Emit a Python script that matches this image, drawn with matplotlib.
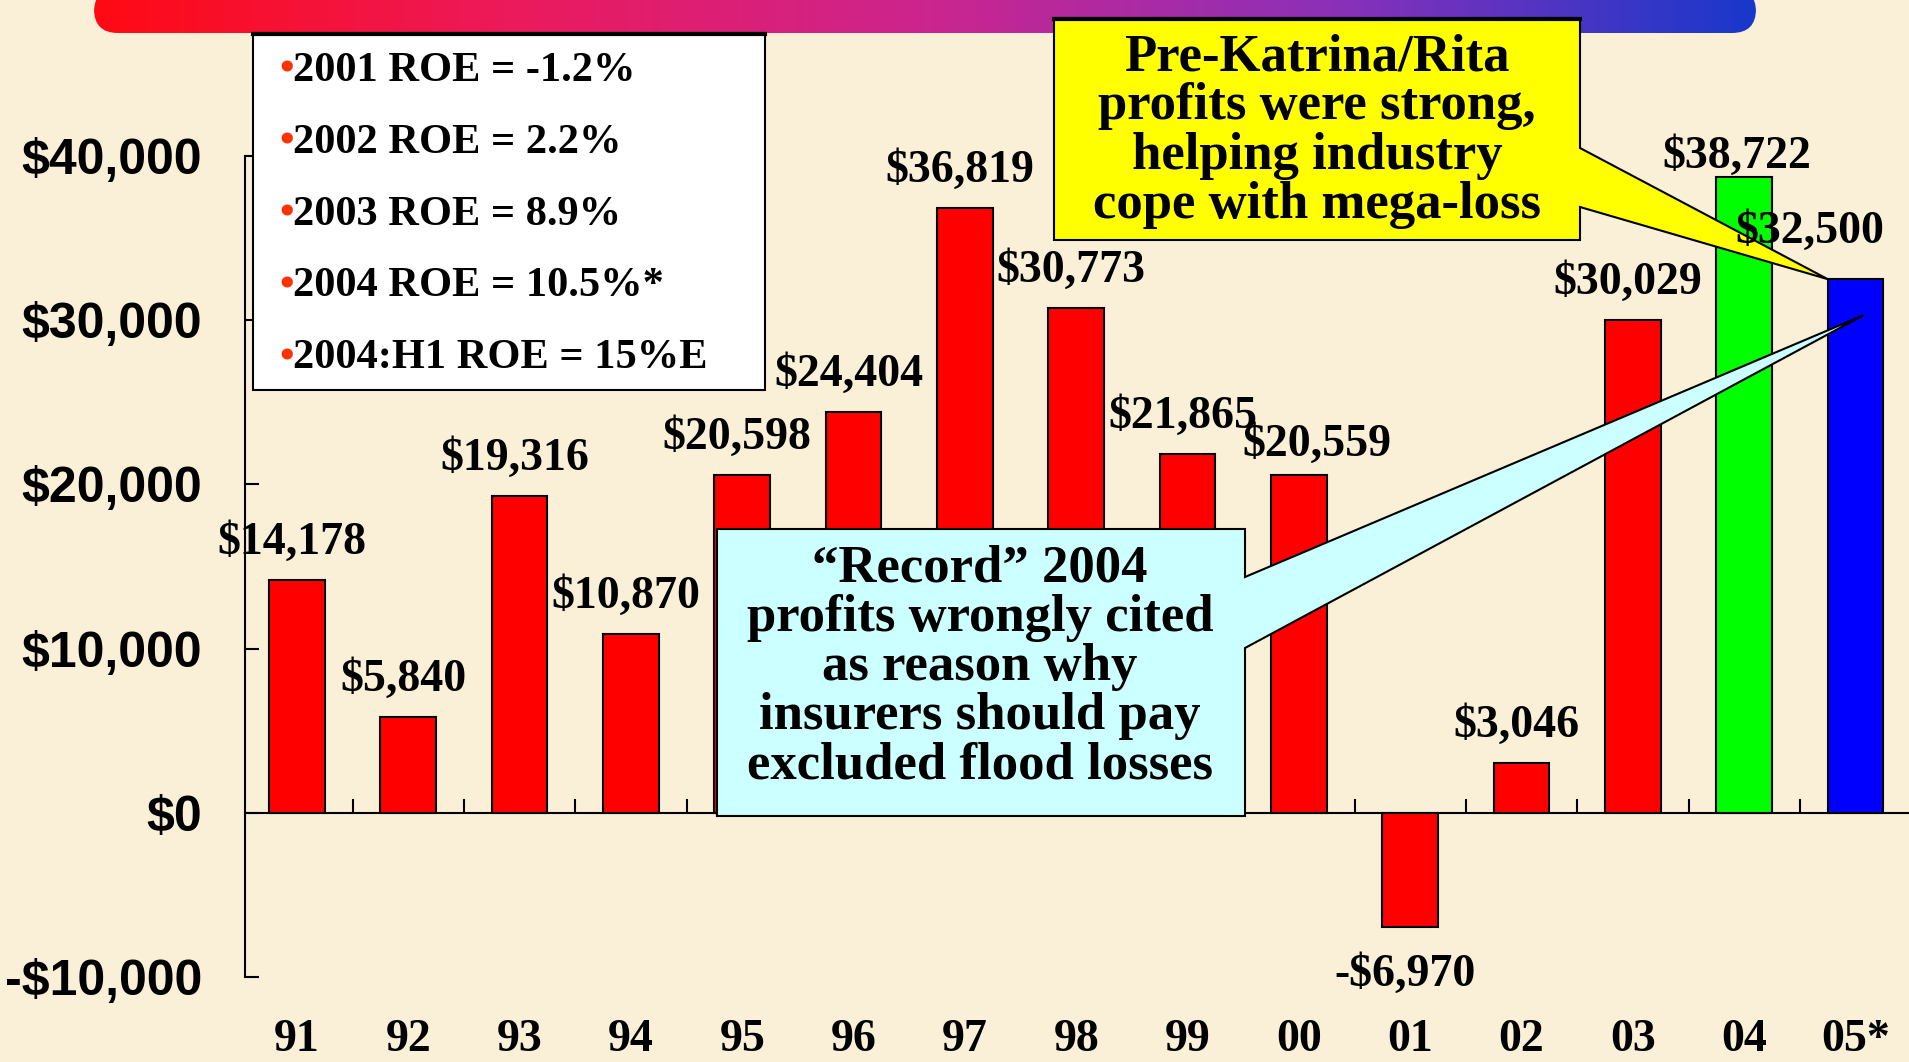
"""
Insurer net income 1991-2005*, with ROE notes and two call-out boxes.
"""

import numpy as np
import matplotlib
matplotlib.use('Agg')
import matplotlib.pyplot as plt
from matplotlib.patches import Polygon, Rectangle, FancyBboxPatch
from matplotlib.colors import LinearSegmentedColormap
from matplotlib.transforms import blended_transform_factory

# data
years = ['91', '92', '93', '94', '95', '96', '97', '98', '99',
         '00', '01', '02', '03', '04', '05*']
profits = [14178, 5840, 19316, 10870, 20598, 24404, 36819, 30773, 21865,
           20559, -6970, 3046, 30029, 38722, 32500]
bar_colors = ['#ff0000'] * 13 + ['#00ff00', '#0000ff']
value_labels = ['$14,178', '$5,840', '$19,316', '$10,870', '$20,598',
                '$24,404', '$36,819', '$30,773', '$21,865', '$20,559',
                '-$6,970', '$3,046', '$30,029', '$38,722', '$32,500']
roe_notes = ['2001 ROE = -1.2%', '2002 ROE = 2.2%', '2003 ROE = 8.9%',
             '2004 ROE = 10.5%*', '2004:H1 ROE = 15%E']
yticks = [-10000, 0, 10000, 20000, 30000, 40000]
ytick_labels = ['-$10,000', '$0', '$10,000', '$20,000', '$30,000', '$40,000']
yellow_text = 'Pre-Katrina/Rita\nprofits were strong,\nhelping industry\ncope with mega-loss'
cyan_text = ('\u201cRecord\u201d 2004\nprofits wrongly cited\nas reason why\n'
             'insurers should pay\nexcluded flood losses')

SERIF = 'Liberation Serif'
SANS = 'Liberation Sans'
BG = '#faf0d8'
W, H = 1909, 1062


def fx(x):
    return x / W


def fy(y):
    return 1 - y / H


fig = plt.figure(figsize=(W / 100, H / 100), dpi=100, facecolor=BG)

# gradient bar across the top
gax = fig.add_axes([fx(94), fy(33), (1756 - 94) / W, 33 / H])
gax.set_zorder(0)
gax.axis('off')
cmap = LinearSegmentedColormap.from_list(
    'banner', ['#ff0a14', '#ec1a5c', '#cc258e', '#8a31b8', '#1838cc'])
grad = np.linspace(0, 1, 512).reshape(1, -1)
img = gax.imshow(grad, cmap=cmap, aspect='auto', extent=[0, 1662, 0, 45])
clip = FancyBboxPatch((0, 0), 1662, 45, boxstyle='round,pad=0,rounding_size=24',
                      transform=gax.transData)
img.set_clip_path(clip)
gax.set_xlim(0, 1662)
gax.set_ylim(0, 33)

# main chart
ax = fig.add_axes([fx(245), fy(977), 1 - fx(245), (977 - 156) / H])
ax.set_zorder(1)
ax.patch.set_visible(False)
x = np.arange(len(years))
ax.bar(x, profits, width=0.5, color=bar_colors, edgecolor='black',
       linewidth=1.5, zorder=2)
ax.set_xlim(-0.467, 14.48)
ax.set_ylim(-10000, 40000)

for side in ['top', 'right']:
    ax.spines[side].set_visible(False)
ax.spines['bottom'].set_position(('data', 0))
ax.spines['bottom'].set_linewidth(1.5)
ax.spines['left'].set_linewidth(1.5)

ax.set_xticks(x)
ax.set_xticklabels([])
ax.tick_params(axis='x', which='major', length=0)
ax.set_xticks(x[:-1] + 0.5, minor=True)
ax.tick_params(axis='x', which='minor', direction='in', length=10, width=1.5)

ax.set_yticks(yticks)
ax.set_yticklabels(ytick_labels, fontfamily=SANS, fontweight='bold', fontsize=36)
ax.tick_params(axis='y', direction='in', length=10, width=1.5, pad=31)

# year labels at the bottom
trans = blended_transform_factory(ax.transData, ax.transAxes)
for i, yr in enumerate(years):
    ax.text(i, -0.077, yr, transform=trans, ha='center', va='center',
            fontsize=33, fontfamily=SERIF, fontweight='bold', clip_on=False)

# value labels (offsets in pixels, a few were nudged on the slide)
nudge = {9: (18, -7), 13: (-7, -17), 14: (-46, 10)}
for i, (v, lab) in enumerate(zip(profits, value_labels)):
    dx, dy = nudge.get(i, (-5, 0))
    dy = dy + 37 if v >= 0 else -48
    ax.annotate(lab, (i, v), xytext=(dx * 0.72, dy * 0.72),
                textcoords='offset points', ha='center', va='center',
                fontsize=33, fontfamily=SERIF, fontweight='bold', zorder=4,
                annotation_clip=False)

to_fig = fig.transFigure.inverted()


def data_to_fig(px, py):
    return to_fig.transform(ax.transData.transform((px, py)))


# ROE note box
ax.add_patch(Rectangle((fx(253), fy(390)), (765 - 253) / W, (390 - 33) / H,
                       transform=fig.transFigure, facecolor='white',
                       edgecolor='black', linewidth=1.5, clip_on=False, zorder=5))
ax.plot([fx(253), fx(765)], [fy(34), fy(34)], transform=fig.transFigure,
        color='black', linewidth=3, clip_on=False, zorder=5)
for k, note in enumerate(roe_notes):
    yy = fy(71 + k * 71.8)
    ax.text(fx(279), yy, '\u2022', transform=fig.transFigure, color='#ff3300',
            fontsize=30, fontfamily=SERIF, fontweight='bold', ha='left',
            va='center', zorder=6, clip_on=False)
    ax.text(fx(293), yy, note, transform=fig.transFigure, fontsize=30.5,
            fontfamily=SERIF, fontweight='bold', ha='left', va='center',
            zorder=6, clip_on=False)

# yellow call-out pointing at the 2005 bar
tip = data_to_fig(14 - 0.25, profits[14])
ypoly = [(fx(1054), fy(18)), (fx(1580), fy(18)), (fx(1580), fy(148)), tuple(tip),
         (fx(1580), fy(207)), (fx(1580), fy(240)), (fx(1054), fy(240))]
ax.add_patch(Polygon(ypoly, closed=True, transform=fig.transFigure,
                     facecolor='#ffff00', edgecolor='black', linewidth=1.5,
                     clip_on=False, zorder=3))
ax.plot([fx(1054), fx(1580)], [fy(19), fy(19)], transform=fig.transFigure,
        color='black', linewidth=3, clip_on=False, zorder=3)
ax.text(fx(1317), fy(131), yellow_text, transform=fig.transFigure,
        ha='center', va='center', multialignment='center', fontsize=38,
        fontfamily=SERIF, fontweight='bold', linespacing=1.03, zorder=7)

# cyan call-out
tip2 = data_to_fig(14.07, 30300)
cpoly = [(fx(717), fy(529)), (fx(1245), fy(529)), (fx(1245), fy(577)), tuple(tip2),
         (fx(1245), fy(648)), (fx(1245), fy(816)), (fx(717), fy(816))]
ax.add_patch(Polygon(cpoly, closed=True, transform=fig.transFigure,
                     facecolor='#ccffff', edgecolor='black', linewidth=1.5,
                     clip_on=False, zorder=3))
ax.text(fx(980), fy(667), cyan_text, transform=fig.transFigure,
        ha='center', va='center', multialignment='center', fontsize=38,
        fontfamily=SERIF, fontweight='bold', linespacing=1.03, zorder=7)

ax.set_xlim(-0.467, 14.48)
ax.set_ylim(-10000, 40000)

fig.savefig('out.png', dpi=100, facecolor=BG)
